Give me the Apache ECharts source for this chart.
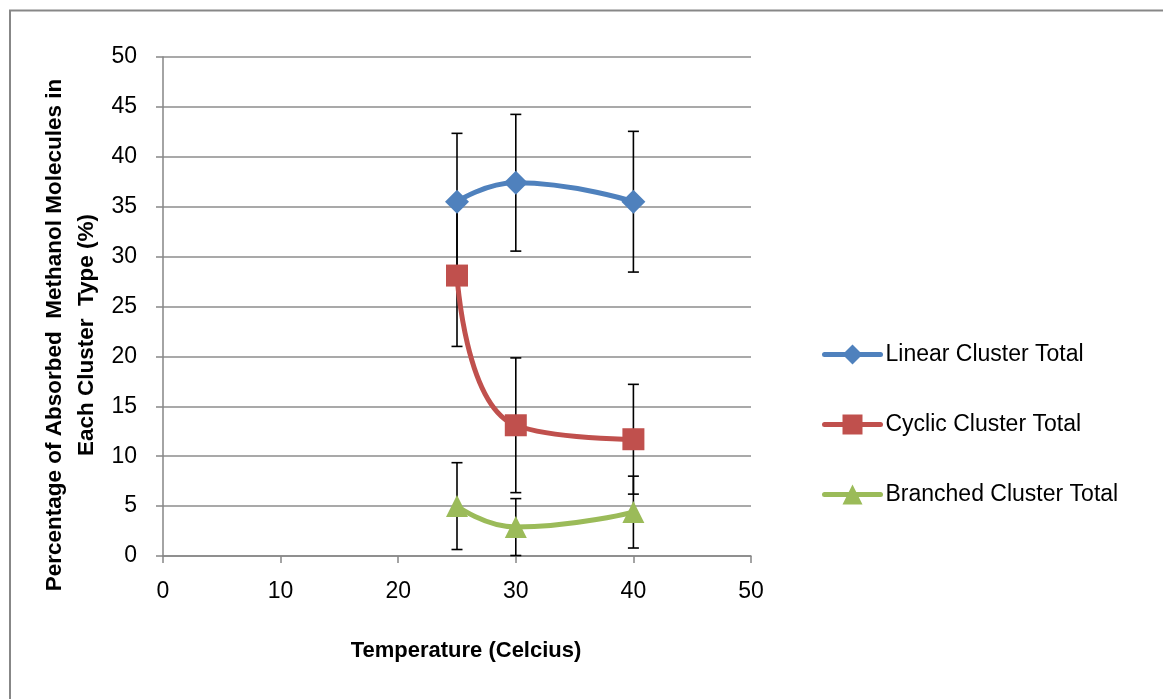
<!DOCTYPE html>
<html>
<head>
<meta charset="utf-8">
<script src="https://cdn.jsdelivr.net/npm/echarts@6/dist/echarts.min.js"></script>
<style>
html,body{margin:0;padding:0;background:#fff;}
#chart{width:1163px;height:699px;}
</style>
</head>
<body>
<div id="chart"></div>
<script>
var temps = [25, 30, 40];
var linearVals = [35.5, 37.4, 35.5];
var linearErr = [6.85, 6.85, 7.05];
var cyclicVals = [28.1, 13.1, 11.7];
var cyclicErr = [7.1, 6.75, 5.5];
var branchedVals = [5.0, 2.9, 4.4];
var branchedErr = [4.35, 2.85, 3.6];
var xTicks = [0, 10, 20, 30, 40, 50];
var yTicks = [0, 5, 10, 15, 20, 25, 30, 35, 40, 45, 50];
var names = ['Linear Cluster Total', 'Cyclic Cluster Total', 'Branched Cluster Total'];
var colors = ['#4F81BD', '#C0504D', '#9BBB59'];
var symbols = ['diamond', 'rect', 'triangle'];

var FONT = '"Liberation Sans", Arial, sans-serif';

function pts(vals) { return temps.map(function (t, i) { return [t, vals[i]]; }); }
function errPts(vals, errs) { return temps.map(function (t, i) { return [t, vals[i] - errs[i], vals[i] + errs[i]]; }); }

function renderErr(params, api) {
  var lo = api.coord([api.value(0), api.value(1)]);
  var hi = api.coord([api.value(0), api.value(2)]);
  var hw = 5.5;
  var st = { stroke: '#000', lineWidth: 1.6 };
  return {
    type: 'group',
    children: [
      { type: 'line', shape: { x1: lo[0], y1: lo[1], x2: hi[0], y2: hi[1] }, style: st },
      { type: 'line', shape: { x1: lo[0] - hw, y1: lo[1], x2: lo[0] + hw, y2: lo[1] }, style: st },
      { type: 'line', shape: { x1: hi[0] - hw, y1: hi[1], x2: hi[0] + hw, y2: hi[1] }, style: st }
    ]
  };
}

var valsAll = [linearVals, cyclicVals, branchedVals];
var errsAll = [linearErr, cyclicErr, branchedErr];
var series = [];
for (var k = 0; k < 3; k++) {
  series.push({
    type: 'custom', name: names[k] + ' err', renderItem: renderErr,
    data: errPts(valsAll[k], errsAll[k]), z: 1, silent: true,
    encode: { x: 0, y: [1, 2] }
  });
}
for (var k2 = 0; k2 < 3; k2++) {
  series.push({
    type: 'line', name: names[k2], data: pts(valsAll[k2]), smooth: 0.5,
    symbol: symbols[k2], symbolSize: k2 === 0 ? 24 : 22,
    lineStyle: { color: colors[k2], width: 5, cap: 'round' },
    itemStyle: { color: colors[k2] },
    z: 3
  });
}

var chart = echarts.init(document.getElementById('chart'), null, { renderer: 'canvas' });
chart.setOption({
  animation: false,
  backgroundColor: '#fff',
  textStyle: { fontFamily: FONT },
  graphic: [
    { type: 'rect', shape: { x: 10, y: 10.5, width: 1200, height: 800 }, style: { fill: 'none', stroke: '#878787', lineWidth: 2 }, z: -1 },
    { type: 'text', x: 71, y: 335, rotation: Math.PI / 2,
      style: { text: 'Percentage of Absorbed  Methanol Molecules in\nEach Cluster  Type (%)', font: 'bold 22.5px ' + FONT, fill: '#000', align: 'center', verticalAlign: 'middle', lineHeight: 32 } },
    { type: 'text', x: 466, y: 651,
      style: { text: 'Temperature (Celcius)', font: 'bold 22px ' + FONT, fill: '#000', align: 'center', verticalAlign: 'middle' } }
  ],
  grid: { left: 163, top: 57, width: 588, height: 499, containLabel: false },
  legend: {
    orient: 'vertical', left: 822, top: 343, padding: 0, itemWidth: 56, itemHeight: 25, itemGap: 47,
    data: names,
    lineStyle: { width: 5, cap: 'round' },
    textStyle: { fontFamily: FONT, fontSize: 23, color: '#000' }
  },
  xAxis: {
    type: 'value', min: 0, max: 50, interval: 10,
    axisLine: { show: true, onZero: false, lineStyle: { color: '#868686', width: 1.5 } },
    axisTick: { show: true, inside: false, length: 7, lineStyle: { color: '#868686', width: 1.5 } },
    axisLabel: { fontSize: 23, color: '#000', margin: 24, fontFamily: FONT, formatter: function (v) { return xTicks.indexOf(v) >= 0 ? String(v) : ''; } },
    splitLine: { show: false }
  },
  yAxis: {
    type: 'value', min: 0, max: 50, interval: 5,
    axisLine: { show: true, lineStyle: { color: '#868686', width: 1.5 } },
    axisTick: { show: true, inside: false, length: 7, lineStyle: { color: '#868686', width: 1.5 } },
    axisLabel: { fontSize: 23, color: '#000', margin: 26, fontFamily: FONT, formatter: function (v) { return yTicks.indexOf(v) >= 0 ? String(v) : ''; } },
    splitLine: { show: true, lineStyle: { color: '#8c8c8c', width: 1.5 } }
  },
  series: series
});
</script>
</body>
</html>
